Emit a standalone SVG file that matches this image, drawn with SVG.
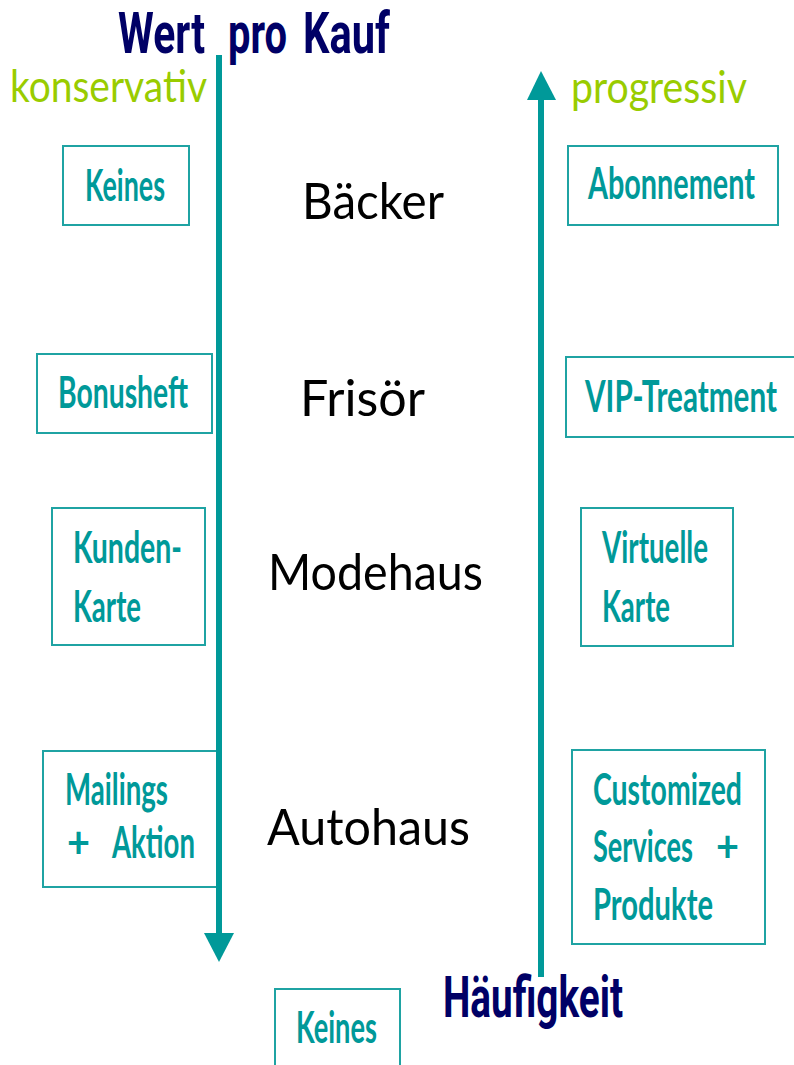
<svg xmlns="http://www.w3.org/2000/svg" width="794" height="1065" viewBox="0 0 794 1065">
  <style>
    .box { fill: #ffffff; stroke: #1fa3a3; stroke-width: 2; }
    /* condensed look: smaller type stretched vertically, exact width via textLength */
    .opt { font-family: Lato, "Liberation Sans", sans-serif; font-size: 28.4px; font-weight: bold; fill: #009999; }
    .axis { font-family: Roboto, "Liberation Sans", sans-serif; font-size: 39.3px; font-weight: bold; fill: #000066; }
    .branch { font-family: Lato, "Liberation Sans", sans-serif; font-size: 50px; fill: #000000; }
    .pole { font-family: Lato, "Liberation Sans", sans-serif; font-size: 44px; fill: #99cc00; }
    .shaft { stroke: #009999; stroke-width: 6; fill: none; }
    .head { fill: #009999; }
  </style>

  <!-- axis titles -->
  <g id="title-wert">
    <text class="axis" transform="translate(118,53) scale(1,1.45)" textLength="87" lengthAdjust="spacingAndGlyphs">Wert</text>
    <text class="axis" transform="translate(228,53) scale(1,1.45)" textLength="59" lengthAdjust="spacingAndGlyphs">pro</text>
    <text class="axis" transform="translate(303,53) scale(1,1.45)" textLength="87" lengthAdjust="spacingAndGlyphs">Kauf</text>
  </g>
  <g id="title-haeufigkeit">
    <text class="axis" transform="translate(443,1017) scale(1,1.45)" textLength="180" lengthAdjust="spacingAndGlyphs">Häufigkeit</text>
  </g>
  <g id="label-konservativ">
    <text class="pole" x="10" y="102" textLength="197" lengthAdjust="spacingAndGlyphs">konservativ</text>
  </g>
  <g id="label-progressiv">
    <text class="pole" x="571" y="103" textLength="176" lengthAdjust="spacingAndGlyphs">progressiv</text>
  </g>

  <!-- branches in the middle column -->
  <g id="branch-baecker">
    <text class="branch" x="302" y="219" textLength="142" lengthAdjust="spacingAndGlyphs">Bäcker</text>
  </g>
  <g id="branch-frisoer">
    <text class="branch" x="300" y="416" textLength="125" lengthAdjust="spacingAndGlyphs">Frisör</text>
  </g>
  <g id="branch-modehaus">
    <text class="branch" x="268" y="590" textLength="215" lengthAdjust="spacingAndGlyphs">Modehaus</text>
  </g>
  <g id="branch-autohaus">
    <text class="branch" x="267" y="845" textLength="203" lengthAdjust="spacingAndGlyphs">Autohaus</text>
  </g>

  <!-- conservative options (left) -->
  <g id="left-keines">
    <rect class="box" x="63" y="146" width="126" height="79"/>
    <text class="opt" transform="translate(85,201) scale(1,1.55)" textLength="80" lengthAdjust="spacingAndGlyphs">Keines</text>
  </g>
  <g id="left-bonusheft">
    <rect class="box" x="37" y="354" width="175" height="79"/>
    <text class="opt" transform="translate(58,408) scale(1,1.55)" textLength="130" lengthAdjust="spacingAndGlyphs">Bonusheft</text>
  </g>
  <g id="left-kundenkarte">
    <rect class="box" x="52" y="508" width="153" height="137"/>
    <text class="opt" transform="translate(73,563) scale(1,1.55)" textLength="109" lengthAdjust="spacingAndGlyphs">Kunden-</text>
    <text class="opt" transform="translate(73,622) scale(1,1.55)" textLength="68" lengthAdjust="spacingAndGlyphs">Karte</text>
  </g>
  <g id="left-mailings">
    <rect class="box" x="43" y="751" width="174" height="136"/>
    <text class="opt" transform="translate(65,805) scale(1,1.55)" textLength="103" lengthAdjust="spacingAndGlyphs">Mailings</text>
    <text class="opt" transform="translate(67,858) scale(1,1.55)" textLength="23" lengthAdjust="spacingAndGlyphs">+</text>
    <text class="opt" transform="translate(112,858) scale(1,1.55)" textLength="83" lengthAdjust="spacingAndGlyphs">Aktion</text>
  </g>

  <!-- progressive options (right) -->
  <g id="right-abonnement">
    <rect class="box" x="568" y="146" width="210" height="79"/>
    <text class="opt" transform="translate(588,199) scale(1,1.55)" textLength="167" lengthAdjust="spacingAndGlyphs">Abonnement</text>
  </g>
  <g id="right-vip">
    <rect class="box" x="566" y="357" width="240" height="80"/>
    <text class="opt" transform="translate(585,412) scale(1,1.55)" textLength="192" lengthAdjust="spacingAndGlyphs">VIP-Treatment</text>
  </g>
  <g id="right-virtuelle-karte">
    <rect class="box" x="581" y="508" width="152" height="138"/>
    <text class="opt" transform="translate(602,563) scale(1,1.55)" textLength="106" lengthAdjust="spacingAndGlyphs">Virtuelle</text>
    <text class="opt" transform="translate(602,622) scale(1,1.55)" textLength="68" lengthAdjust="spacingAndGlyphs">Karte</text>
  </g>
  <g id="right-customized">
    <rect class="box" x="572" y="750" width="193" height="194"/>
    <text class="opt" transform="translate(593,805) scale(1,1.55)" textLength="149" lengthAdjust="spacingAndGlyphs">Customized</text>
    <text class="opt" transform="translate(593,862) scale(1,1.55)" textLength="100" lengthAdjust="spacingAndGlyphs">Services</text>
    <text class="opt" transform="translate(716,862) scale(1,1.55)" textLength="23" lengthAdjust="spacingAndGlyphs">+</text>
    <text class="opt" transform="translate(593,920) scale(1,1.55)" textLength="120" lengthAdjust="spacingAndGlyphs">Produkte</text>
  </g>

  <!-- bottom option -->
  <g id="bottom-keines">
    <rect class="box" x="275" y="989" width="125" height="90"/>
    <text class="opt" transform="translate(296,1043) scale(1,1.55)" textLength="81" lengthAdjust="spacingAndGlyphs">Keines</text>
  </g>

  <!-- axis arrows -->
  <g id="connectors">
    <line class="shaft" x1="219" y1="55" x2="219" y2="936"/>
    <polygon class="head" points="204,933 234,933 219,962"/>
    <line class="shaft" x1="541" y1="977" x2="541" y2="97"/>
    <polygon class="head" points="527,100 556,100 541,71"/>
  </g>
</svg>
